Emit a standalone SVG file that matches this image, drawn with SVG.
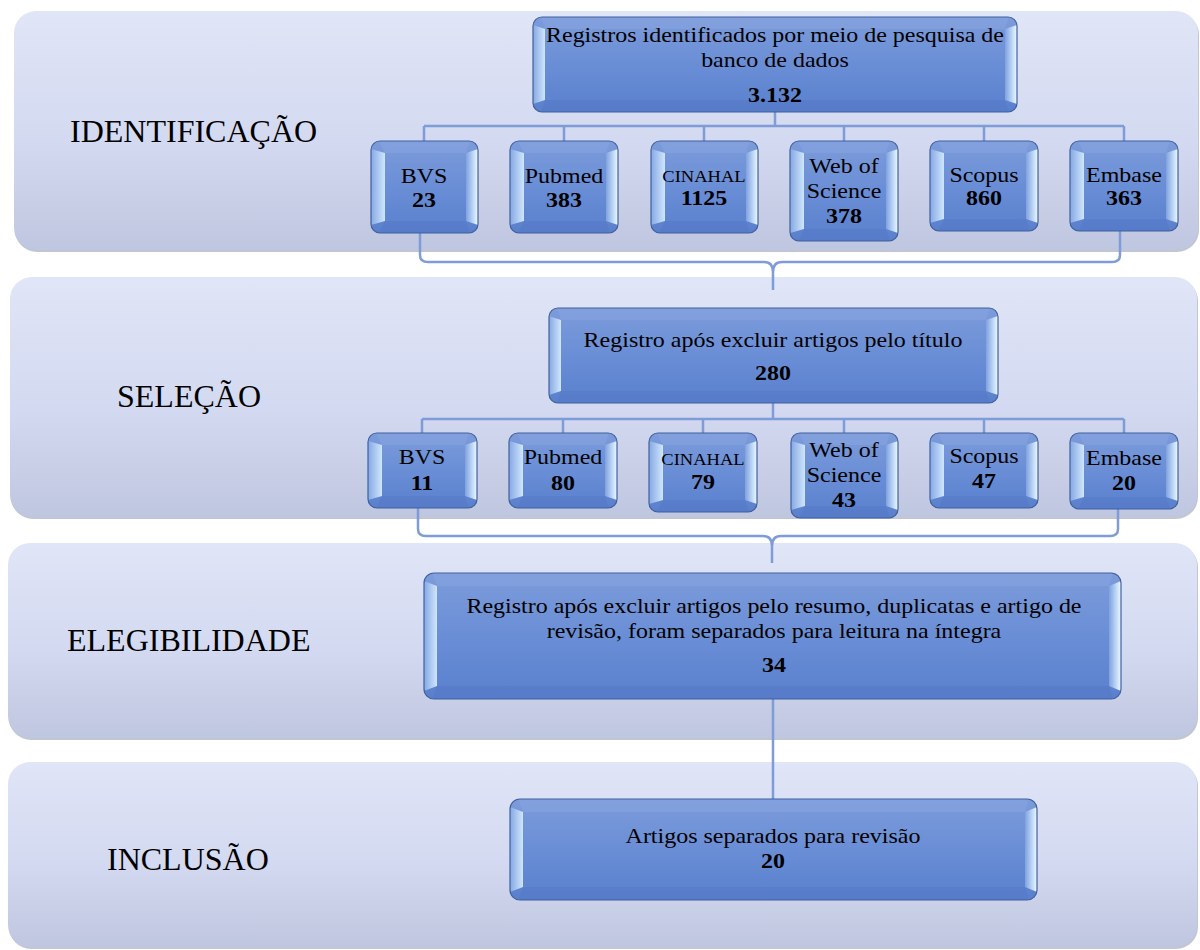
<svg xmlns="http://www.w3.org/2000/svg" width="1200" height="950" viewBox="0 0 1200 950">
<defs>
<linearGradient id="pg" x1="0" y1="0" x2="0" y2="1">
<stop offset="0" stop-color="#e0e5f7"/><stop offset="0.55" stop-color="#d3d9f0"/><stop offset="1" stop-color="#bfc6df"/>
</linearGradient>
<linearGradient id="fg" x1="0" y1="0" x2="0" y2="1">
<stop offset="0" stop-color="#7c9bda"/><stop offset="0.5" stop-color="#6a8ed6"/><stop offset="1" stop-color="#5a80cd"/>
</linearGradient>
<linearGradient id="lg" x1="0" y1="0" x2="1" y2="0">
<stop offset="0" stop-color="#86a8e4"/><stop offset="1" stop-color="#cfe6fc"/>
</linearGradient>
<linearGradient id="rg" x1="0" y1="0" x2="1" y2="0">
<stop offset="0" stop-color="#7fa1df"/><stop offset="0.7" stop-color="#c9e1fa"/><stop offset="1" stop-color="#f2f9ff"/>
</linearGradient>
</defs>
<style>
.panel{fill:url(#pg);}
.pshadow{fill:#a7adc2;opacity:0.7;}
.face{fill:url(#fg);}
.bl{fill:url(#lg);}
.br{fill:url(#rg);}
.bt{fill:#87a5e0;opacity:0.5;}
.bb{fill:#4f73c0;opacity:0.35;}
.edge{fill:none;stroke:#40609e;stroke-width:1.2;}
.conn{fill:none;stroke:#7f9bd8;stroke-width:2.5;}
text{font-family:"Liberation Serif","Times New Roman",serif;fill:#000;text-anchor:middle;}
.t{font-size:22px;}
.ts{font-size:17px;}
.b{font-size:22px;font-weight:bold;}
.lab{font-size:32px;text-anchor:start;}
</style>

<g id="panels">
<rect class="pshadow" x="15" y="13" width="1184" height="239" rx="22"/>
<rect class="panel" x="14" y="11" width="1184" height="239" rx="22"/>
<rect class="pshadow" x="11" y="279" width="1187" height="240" rx="22"/>
<rect class="panel" x="10" y="277" width="1187" height="240" rx="22"/>
<rect class="pshadow" x="9" y="545" width="1189" height="195" rx="22"/>
<rect class="panel" x="8" y="543" width="1189" height="195" rx="22"/>
<rect class="pshadow" x="9" y="764" width="1189" height="185" rx="22"/>
<rect class="panel" x="8" y="762" width="1189" height="185" rx="22"/>
</g>

<g id="labels">
<text class="lab" x="70" y="142">IDENTIFICAÇÃO</text>
<text class="lab" x="117" y="407">SELEÇÃO</text>
<text class="lab" x="67" y="651">ELEGIBILIDADE</text>
<text class="lab" x="107" y="870">INCLUSÃO</text>
</g>

<g id="connectors">
<path class="conn" d="M775,112 V126 M424,126 H1124 M424,126 V141 M564,126 V141 M704,126 V141 M844,126 V141 M984,126 V141 M1124,126 V141"/>
<path class="conn" d="M420,233 V255 Q420,262 428,262 H764 Q773,262 773,272 V290 M773,272 Q773,262 782,262 H1112 Q1120,262 1120,255 V231"/>
<path class="conn" d="M773,403 V419 M422,419 H1124 M422,419 V433 M563,419 V433 M703,419 V433 M844,419 V433 M984,419 V433 M1124,419 V433"/>
<path class="conn" d="M418,508 V529 Q418,536 426,536 H763 Q772,536 772,546 V563 M772,546 Q772,536 781,536 H1110 Q1118,536 1118,529 V509"/>
<path class="conn" d="M773,699 V799"/>
</g>

<g id="n-total">
<rect class="face" x="533" y="17" width="484" height="95" rx="9"/>
<polygon class="bt" points="541,17 1009,17 1005,29 545,29"/>
<polygon class="bb" points="541,112 1009,112 1005,100 545,100"/>
<polygon class="bl" points="533,25 545,29 545,100 533,104"/>
<polygon class="br" points="1017,25 1005,29 1005,100 1017,104"/>
<rect class="edge" x="533" y="17" width="484" height="95" rx="9"/>
<g transform="translate(775 0) scale(1.09 1)">
<text class="t" x="0" y="42">Registros identificados por meio de pesquisa de</text>
<text class="t" x="0" y="67">banco de dados</text>
<text class="b" x="0" y="102">3.132</text>
</g>
</g>

<g id="n-bvs1">
<rect class="face" x="371" y="141" width="107" height="92" rx="9"/>
<polygon class="bt" points="379,141 470,141 466,153 385,153"/>
<polygon class="bb" points="379,233 470,233 466,221 385,221"/>
<polygon class="bl" points="371,149 385,153 385,221 371,225"/>
<polygon class="br" points="478,149 466,153 466,221 478,225"/>
<rect class="edge" x="371" y="141" width="107" height="92" rx="9"/>
<g transform="translate(424 0) scale(1.09 1)">
<text class="t" x="0" y="183">BVS</text>
<text class="b" x="0" y="207">23</text>
</g>
</g>

<g id="n-pubmed1">
<rect class="face" x="510" y="141" width="108" height="92" rx="9"/>
<polygon class="bt" points="518,141 610,141 606,153 524,153"/>
<polygon class="bb" points="518,233 610,233 606,221 524,221"/>
<polygon class="bl" points="510,149 524,153 524,221 510,225"/>
<polygon class="br" points="618,149 606,153 606,221 618,225"/>
<rect class="edge" x="510" y="141" width="108" height="92" rx="9"/>
<g transform="translate(564 0) scale(1.09 1)">
<text class="t" x="0" y="183">Pubmed</text>
<text class="b" x="0" y="207">383</text>
</g>
</g>

<g id="n-cinahal1">
<rect class="face" x="651" y="141" width="107" height="92" rx="9"/>
<polygon class="bt" points="659,141 750,141 746,153 665,153"/>
<polygon class="bb" points="659,233 750,233 746,221 665,221"/>
<polygon class="bl" points="651,149 665,153 665,221 651,225"/>
<polygon class="br" points="758,149 746,153 746,221 758,225"/>
<rect class="edge" x="651" y="141" width="107" height="92" rx="9"/>
<g transform="translate(704 0) scale(1.09 1)">
<text class="ts" x="0" y="182">CINAHAL</text>
<text class="b" x="0" y="205">1125</text>
</g>
</g>

<g id="n-wos1">
<rect class="face" x="790" y="141" width="108" height="100" rx="9"/>
<polygon class="bt" points="798,141 890,141 886,153 804,153"/>
<polygon class="bb" points="798,241 890,241 886,229 804,229"/>
<polygon class="bl" points="790,149 804,153 804,229 790,233"/>
<polygon class="br" points="898,149 886,153 886,229 898,233"/>
<rect class="edge" x="790" y="141" width="108" height="100" rx="9"/>
<g transform="translate(844 0) scale(1.09 1)">
<text class="t" x="0" y="173">Web of</text>
<text class="t" x="0" y="198">Science</text>
<text class="b" x="0" y="223">378</text>
</g>
</g>

<g id="n-scopus1">
<rect class="face" x="930" y="141" width="108" height="90" rx="9"/>
<polygon class="bt" points="938,141 1030,141 1026,153 944,153"/>
<polygon class="bb" points="938,231 1030,231 1026,219 944,219"/>
<polygon class="bl" points="930,149 944,153 944,219 930,223"/>
<polygon class="br" points="1038,149 1026,153 1026,219 1038,223"/>
<rect class="edge" x="930" y="141" width="108" height="90" rx="9"/>
<g transform="translate(984 0) scale(1.09 1)">
<text class="t" x="0" y="182">Scopus</text>
<text class="b" x="0" y="205">860</text>
</g>
</g>

<g id="n-embase1">
<rect class="face" x="1070" y="141" width="108" height="90" rx="9"/>
<polygon class="bt" points="1078,141 1170,141 1166,153 1084,153"/>
<polygon class="bb" points="1078,231 1170,231 1166,219 1084,219"/>
<polygon class="bl" points="1070,149 1084,153 1084,219 1070,223"/>
<polygon class="br" points="1178,149 1166,153 1166,219 1178,223"/>
<rect class="edge" x="1070" y="141" width="108" height="90" rx="9"/>
<g transform="translate(1124 0) scale(1.09 1)">
<text class="t" x="0" y="182">Embase</text>
<text class="b" x="0" y="205">363</text>
</g>
</g>

<g id="n-selecao">
<rect class="face" x="549" y="308" width="449" height="95" rx="9"/>
<polygon class="bt" points="557,308 990,308 986,320 561,320"/>
<polygon class="bb" points="557,403 990,403 986,391 561,391"/>
<polygon class="bl" points="549,316 561,320 561,391 549,395"/>
<polygon class="br" points="998,316 986,320 986,391 998,395"/>
<rect class="edge" x="549" y="308" width="449" height="95" rx="9"/>
<g transform="translate(773 0) scale(1.09 1)">
<text class="t" x="0" y="347">Registro após excluir artigos pelo título</text>
<text class="b" x="0" y="380">280</text>
</g>
</g>

<g id="n-bvs2">
<rect class="face" x="368" y="433" width="109" height="75" rx="9"/>
<polygon class="bt" points="376,433 469,433 465,445 382,445"/>
<polygon class="bb" points="376,508 469,508 465,496 382,496"/>
<polygon class="bl" points="368,441 382,445 382,496 368,500"/>
<polygon class="br" points="477,441 465,445 465,496 477,500"/>
<rect class="edge" x="368" y="433" width="109" height="75" rx="9"/>
<g transform="translate(422 0) scale(1.09 1)">
<text class="t" x="0" y="464">BVS</text>
<text class="b" x="0" y="490">11</text>
</g>
</g>

<g id="n-pubmed2">
<rect class="face" x="509" y="433" width="108" height="75" rx="9"/>
<polygon class="bt" points="517,433 609,433 605,445 523,445"/>
<polygon class="bb" points="517,508 609,508 605,496 523,496"/>
<polygon class="bl" points="509,441 523,445 523,496 509,500"/>
<polygon class="br" points="617,441 605,445 605,496 617,500"/>
<rect class="edge" x="509" y="433" width="108" height="75" rx="9"/>
<g transform="translate(563 0) scale(1.09 1)">
<text class="t" x="0" y="464">Pubmed</text>
<text class="b" x="0" y="490">80</text>
</g>
</g>

<g id="n-cinahal2">
<rect class="face" x="649" y="433" width="108" height="79" rx="9"/>
<polygon class="bt" points="657,433 749,433 745,445 663,445"/>
<polygon class="bb" points="657,512 749,512 745,500 663,500"/>
<polygon class="bl" points="649,441 663,445 663,500 649,504"/>
<polygon class="br" points="757,441 745,445 745,500 757,504"/>
<rect class="edge" x="649" y="433" width="108" height="79" rx="9"/>
<g transform="translate(703 0) scale(1.09 1)">
<text class="ts" x="0" y="465">CINAHAL</text>
<text class="b" x="0" y="489">79</text>
</g>
</g>

<g id="n-wos2">
<rect class="face" x="791" y="433" width="107" height="85" rx="9"/>
<polygon class="bt" points="799,433 890,433 886,445 805,445"/>
<polygon class="bb" points="799,518 890,518 886,506 805,506"/>
<polygon class="bl" points="791,441 805,445 805,506 791,510"/>
<polygon class="br" points="898,441 886,445 886,506 898,510"/>
<rect class="edge" x="791" y="433" width="107" height="85" rx="9"/>
<g transform="translate(844 0) scale(1.09 1)">
<text class="t" x="0" y="457">Web of</text>
<text class="t" x="0" y="482">Science</text>
<text class="b" x="0" y="507">43</text>
</g>
</g>

<g id="n-scopus2">
<rect class="face" x="930" y="433" width="108" height="75" rx="9"/>
<polygon class="bt" points="938,433 1030,433 1026,445 944,445"/>
<polygon class="bb" points="938,508 1030,508 1026,496 944,496"/>
<polygon class="bl" points="930,441 944,445 944,496 930,500"/>
<polygon class="br" points="1038,441 1026,445 1026,496 1038,500"/>
<rect class="edge" x="930" y="433" width="108" height="75" rx="9"/>
<g transform="translate(984 0) scale(1.09 1)">
<text class="t" x="0" y="463">Scopus</text>
<text class="b" x="0" y="488">47</text>
</g>
</g>

<g id="n-embase2">
<rect class="face" x="1070" y="433" width="108" height="76" rx="9"/>
<polygon class="bt" points="1078,433 1170,433 1166,445 1084,445"/>
<polygon class="bb" points="1078,509 1170,509 1166,497 1084,497"/>
<polygon class="bl" points="1070,441 1084,445 1084,497 1070,501"/>
<polygon class="br" points="1178,441 1166,445 1166,497 1178,501"/>
<rect class="edge" x="1070" y="433" width="108" height="76" rx="9"/>
<g transform="translate(1124 0) scale(1.09 1)">
<text class="t" x="0" y="465">Embase</text>
<text class="b" x="0" y="490">20</text>
</g>
</g>

<g id="n-elegibilidade">
<rect class="face" x="424" y="573" width="697" height="126" rx="10"/>
<polygon class="bt" points="432,573 1113,573 1109,586 437,586"/>
<polygon class="bb" points="432,699 1113,699 1109,686 437,686"/>
<polygon class="bl" points="424,581 437,586 437,686 424,691"/>
<polygon class="br" points="1121,581 1109,586 1109,686 1121,691"/>
<rect class="edge" x="424" y="573" width="697" height="126" rx="10"/>
<g transform="translate(774 0) scale(1.09 1)">
<text class="t" x="0" y="613">Registro após excluir artigos pelo resumo, duplicatas e artigo de</text>
<text class="t" x="0" y="638">revisão, foram separados para leitura na íntegra</text>
<text class="b" x="0" y="672">34</text>
</g>
</g>

<g id="n-inclusao">
<rect class="face" x="510" y="799" width="527" height="101" rx="10"/>
<polygon class="bt" points="518,799 1029,799 1025,812 523,812"/>
<polygon class="bb" points="518,900 1029,900 1025,887 523,887"/>
<polygon class="bl" points="510,807 523,812 523,887 510,892"/>
<polygon class="br" points="1037,807 1025,812 1025,887 1037,892"/>
<rect class="edge" x="510" y="799" width="527" height="101" rx="10"/>
<g transform="translate(773 0) scale(1.09 1)">
<text class="t" x="0" y="843">Artigos separados para revisão</text>
<text class="b" x="0" y="868">20</text>
</g>
</g>
</svg>
